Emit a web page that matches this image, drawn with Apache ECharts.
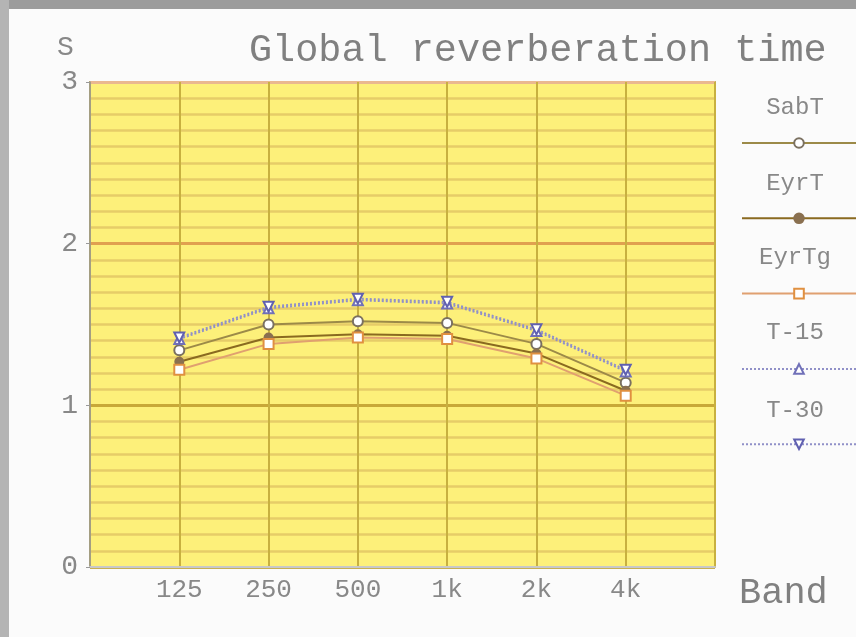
<!DOCTYPE html>
<html><head><meta charset="utf-8">
<script src="https://cdn.jsdelivr.net/npm/echarts@6/dist/echarts.min.js"></script>
<style>html,body{margin:0;padding:0;background:#fafafa}#c{width:856px;height:637px}</style>
</head><body><div id="c"></div>
<script>
const bands = ['125', '250', '500', '1k', '2k', '4k'];
const seriesNames = ['SabT', 'EyrT', 'EyrTg', 'T-15', 'T-30'];
const sabT  = [1.34, 1.50, 1.52, 1.51, 1.38, 1.14];
const eyrT  = [1.27, 1.42, 1.44, 1.43, 1.32, 1.09];
const eyrTg = [1.22, 1.38, 1.42, 1.41, 1.29, 1.06];
const t15   = [1.41, 1.60, 1.65, 1.63, 1.46, 1.21];
const t30   = [1.42, 1.61, 1.66, 1.64, 1.47, 1.22];
const yTicks = [0, 1, 2, 3];

const font = 'Liberation Mono';
const pts = arr => arr.map((v, i) => [i + 1, v]);

const chart = echarts.init(document.getElementById('c'));
const legendY = [108, 184, 258, 333, 411];
const graphics = [
  {type:'rect', shape:{x:0,y:0,width:856,height:637}, style:{fill:'#fbfbfb'}, z:-10, silent:true},
  {type:'rect', shape:{x:0,y:0,width:856,height:9}, style:{fill:'#9c9c9c'}, z:-9, silent:true},
  {type:'rect', shape:{x:0,y:0,width:9,height:637}, style:{fill:'#b4b4b4'}, z:-9, silent:true},
  {type:'text', left:57, top:34, style:{text:'S', font:'28px "Liberation Mono"', fill:'#888'}}
];
seriesNames.forEach((n, i) => {
  graphics.push({type:'text', x:795, y:legendY[i], style:{text:n, font:'24px "Liberation Mono"', fill:'#888', align:'center', verticalAlign:'middle'}});
});

const mk = (name, data, color, lineType, symbol, symColor, extra) => Object.assign({
  name, type:'line', data:pts(data), color:symColor,
  lineStyle:{color, width:2, type:lineType},
  itemStyle:{color:symColor, borderColor:symColor, borderWidth:2},
  symbol, symbolSize:10, showSymbol:true
}, extra || {});

chart.setOption({
  animation:false,
  title:{text:'Global reverberation time', left:244, top:26,
    textStyle:{fontFamily:font, fontSize:38.5, fontWeight:'normal', color:'#808080'}},
  graphic:graphics,
  grid:{left:90, right:141, top:82, bottom:70, show:true, backgroundColor:'#fdf07a', borderColor:'#c8b060', borderWidth:2},
  legend:{orient:'vertical', left:736, top:132, itemWidth:114, itemHeight:12, itemGap:63.5,
    formatter:()=>'', data:seriesNames, textStyle:{fontSize:1}},
  xAxis:{type:'value', min:0, max:7, interval:1,
    name:'Band', nameLocation:'end', nameGap:24,
    nameTextStyle:{fontFamily:font, fontSize:37, color:'#808080', verticalAlign:'top', padding:[8,0,0,0]},
    offset:5,
    axisLine:{show:true, lineStyle:{color:'#c8c8c8', width:2}},
    axisTick:{show:false},
    axisLabel:{fontFamily:font, fontSize:26, color:'#888', margin:5,
      formatter:v => (v >= 1 && v <= bands.length) ? bands[v - 1] : ''},
    splitLine:{show:true, lineStyle:{color:'#c8b040', width:2}}},
  yAxis:{type:'value', min:0, max:3, interval:1, offset:8,
    axisLine:{show:true, lineStyle:{color:'#999', width:1.5}},
    axisTick:{show:true, length:4, lineStyle:{color:'#999'}},
    axisLabel:{fontFamily:font, fontSize:28, color:'#888', margin:4,
      formatter:v => yTicks.includes(v) ? String(v) : ''},
    splitLine:{show:true, lineStyle:{color:['#c8b050','#c8a838','#e0a050','#eab890'], width:3}},
    minorTick:{show:false, splitNumber:10},
    minorSplitLine:{show:true, lineStyle:{color:'#e6cc68', width:2.5}}},
  series:[
    mk('SabT', sabT, '#9c8a48', 'solid', 'emptyCircle', '#7a7060'),
    mk('EyrT', eyrT, '#8a6a20', 'solid', 'circle', '#8a7050', {symbolSize:8}),
    mk('EyrTg', eyrTg, '#e0a070', 'solid', 'emptyRect', '#e09040'),
    mk('T-15', t15, '#9090c8', 'dotted', 'emptyTriangle', '#7070b8'),
    mk('T-30', t30, '#9090c8', 'dotted', 'emptyTriangle', '#6060b0', {symbolRotate:180})
  ]
});
</script></body></html>
